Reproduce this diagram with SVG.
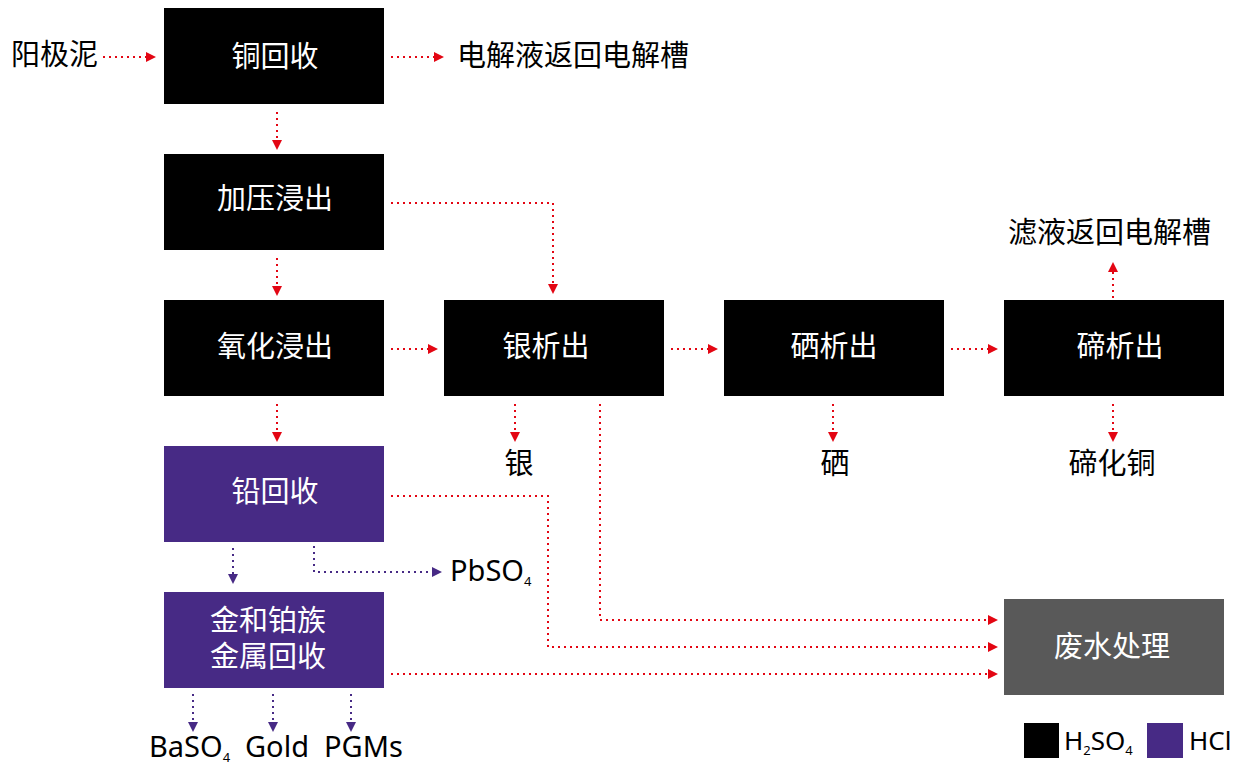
<svg xmlns="http://www.w3.org/2000/svg" width="1238" height="765" viewBox="0 0 1238 765">
<style>
text{font-family:"Noto Sans","Noto Sans CJK SC",sans-serif;font-size:29px}
.w{fill:#fff;text-anchor:middle}
.k{fill:#000}
.c{text-anchor:middle}
.red{fill:none;stroke:#e30613;stroke-width:2;stroke-dasharray:2 4}
.pur{fill:none;stroke:#472a85;stroke-width:2;stroke-dasharray:2 4}
.sub{font-size:13px}
</style>
<defs>
<marker id="ar" markerWidth="10" markerHeight="10" refX="0" refY="5" orient="auto" markerUnits="userSpaceOnUse"><path d="M0,0 L10,5 L0,10 Z" fill="#e30613"/></marker>
<marker id="ap" markerWidth="10" markerHeight="10" refX="0" refY="5" orient="auto" markerUnits="userSpaceOnUse"><path d="M0,0 L10,5 L0,10 Z" fill="#472a85"/></marker>
</defs>
<rect width="1238" height="765" fill="#fff"/>
<g id="connectors">
<path class="red" d="M103,57 H146" marker-end="url(#ar)"/>
<path class="red" d="M391,57 H434" marker-end="url(#ar)"/>
<path class="red" d="M277,112 V140" marker-end="url(#ar)"/>
<path class="red" d="M391,203 H553 V284" marker-end="url(#ar)"/>
<path class="red" d="M277,258 V286" marker-end="url(#ar)"/>
<path class="red" d="M391,349 H428" marker-end="url(#ar)"/>
<path class="red" d="M277,404 V432" marker-end="url(#ar)"/>
<path class="red" d="M671,349 H708" marker-end="url(#ar)"/>
<path class="red" d="M951,349 H988" marker-end="url(#ar)"/>
<path class="red" d="M1113,394 V272" marker-end="url(#ar)"/>
<path class="red" d="M515,404 V432" marker-end="url(#ar)"/>
<path class="red" d="M833,404 V432" marker-end="url(#ar)"/>
<path class="red" d="M1113,404 V432" marker-end="url(#ar)"/>
<path class="red" d="M600,404 V620 H988" marker-end="url(#ar)"/>
<path class="red" d="M391,496 H548 V647 H988" marker-end="url(#ar)"/>
<path class="red" d="M391,674 H988" marker-end="url(#ar)"/>
<path class="pur" d="M233,548 V574" marker-end="url(#ap)"/>
<path class="pur" d="M314,546 V572 H432" marker-end="url(#ap)"/>
<path class="pur" d="M193,694 V722" marker-end="url(#ap)"/>
<path class="pur" d="M273,694 V722" marker-end="url(#ap)"/>
<path class="pur" d="M351,694 V722" marker-end="url(#ap)"/>
</g>
<g id="n-copper"><rect x="164" y="8" width="220" height="96" fill="#000"/><text class="w" x="275" y="67">铜回收</text></g>
<g id="n-pressure"><rect x="164" y="154" width="220" height="96" fill="#000"/><text class="w" x="275" y="209">加压浸出</text></g>
<g id="n-oxid"><rect x="164" y="300" width="220" height="96" fill="#000"/><text class="w" x="275" y="357">氧化浸出</text></g>
<g id="n-lead"><rect x="164" y="446" width="220" height="96" fill="#472a85"/><text class="w" x="275" y="502">铅回收</text></g>
<g id="n-gold"><rect x="164" y="592" width="220" height="96" fill="#472a85"/><text class="w" x="268" y="631">金和铂族</text><text class="w" x="268" y="667">金属回收</text></g>
<g id="n-silver"><rect x="444" y="300" width="220" height="96" fill="#000"/><text class="w" x="546" y="357">银析出</text></g>
<g id="n-se"><rect x="724" y="300" width="220" height="96" fill="#000"/><text class="w" x="834" y="357">硒析出</text></g>
<g id="n-te"><rect x="1004" y="300" width="220" height="96" fill="#000"/><text class="w" x="1120" y="357">碲析出</text></g>
<g id="n-waste"><rect x="1004" y="599" width="220" height="96" fill="#595959"/><text class="w" x="1112" y="657">废水处理</text></g>
<g id="labels">
<text class="k" x="11" y="65">阳极泥</text>
<text class="k" x="457" y="66">电解液返回电解槽</text>
<text class="k" x="1008" y="243">滤液返回电解槽</text>
<text class="k c" x="519" y="474">银</text>
<text class="k c" x="835" y="474">硒</text>
<text class="k c" x="1112" y="474">碲化铜</text>
<text class="k" x="450" y="581">PbSO<tspan class="sub" dy="5">4</tspan></text>
<text class="k" x="149" y="757">BaSO<tspan class="sub" dy="5">4</tspan></text>
<text class="k" x="245" y="757">Gold</text>
<text class="k" x="324" y="757">PGMs</text>
</g>
<g id="legend">
<rect x="1024" y="723" width="35" height="35" fill="#000"/>
<text class="k" x="1064" y="750" style="font-size:26px">H<tspan class="sub" dy="5">2</tspan><tspan dy="-5">SO</tspan><tspan class="sub" dy="5">4</tspan></text>
<rect x="1147" y="723" width="36" height="35" fill="#472a85"/>
<text class="k" x="1189" y="750" style="font-size:26px">HCl</text>
</g>
</svg>
